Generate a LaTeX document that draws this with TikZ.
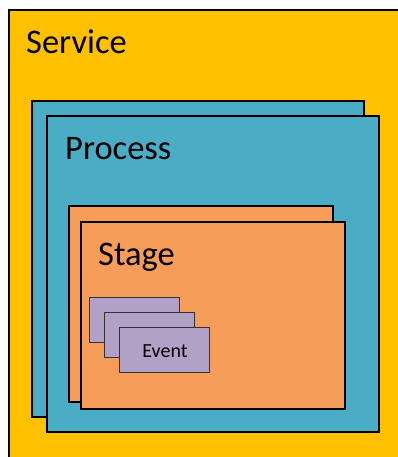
\documentclass[tikz,border=0pt]{standalone}
\usepackage{fontspec}
\setmainfont{Carlito}
\definecolor{servicefill}{HTML}{FFC000}
\definecolor{processfill}{HTML}{4BACC6}
\definecolor{stagefill}{HTML}{F59D59}
\definecolor{eventfill}{HTML}{B2A1C7}
\begin{document}
\begin{tikzpicture}[x=1pt,y=-1pt,
  box/.style={draw=black, line width=1.6pt, anchor=north west, inner sep=0pt, outer sep=0pt},
  evbox/.style={draw=black!80, line width=0.9pt, anchor=north west, inner sep=0pt, outer sep=0pt, fill=eventfill, minimum width=90pt, minimum height=45pt},
  biglabel/.style={anchor=base west, inner sep=0pt, font=\fontsize{34.5}{34.5}\selectfont},
  smalllabel/.style={anchor=base, inner sep=0pt, font=\fontsize{20}{20}\selectfont}]
\useasboundingbox (0,0) rectangle (398,457);
\fill[white] (0,0) rectangle (398,457);
\begin{scope}
\clip (0,0) rectangle (398,457);
\node[box, fill=servicefill, minimum width=400pt, minimum height=460pt] (service) at (9,10) {};
\end{scope}
\node[biglabel] (servicelabel) at (26,54) {Service};
\node[box, fill=processfill, minimum width=332pt, minimum height=316pt] (processback) at (32,101) {};
\node[box, fill=processfill, minimum width=332pt, minimum height=316pt] (processfront) at (47,116) {};
\node[biglabel] (processlabel) at (65,160) {Process};
\node[box, fill=stagefill, minimum width=264pt, minimum height=196pt] (stageback) at (69,206) {};
\node[box, fill=stagefill, minimum width=264pt, minimum height=187pt] (stagefront) at (81,222) {};
\node[biglabel] (stagelabel) at (98,265) {Stage};
\node[evbox] (event1) at (89,297) {};
\node[evbox] (event2) at (104,312) {};
\node[evbox] (event3) at (119,327) {};
\node[smalllabel] (eventlabel) at (165,357) {Event};
\end{tikzpicture}
\end{document}
